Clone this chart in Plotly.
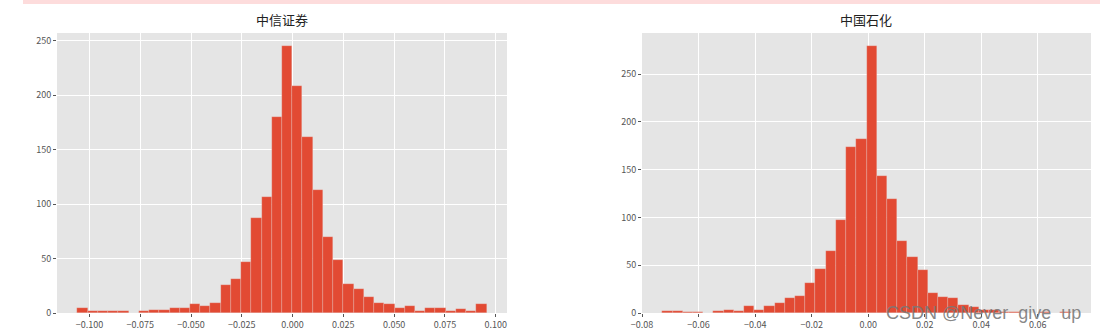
import numpy as np
import plotly.graph_objects as go

# ---------------- data ----------------
titles = ["中信证券", "中国石化"]

# 40-bin histogram counts of daily returns
citic_counts = [5, 2, 2, 2, 2, 0, 2, 3, 3, 5, 5, 8, 6, 9, 26, 31, 47, 87, 107, 180,
                245, 209, 162, 113, 70, 49, 27, 22, 15, 9, 8, 5, 6, 2, 5, 5, 2, 4, 2, 8]
sinopec_counts = [2, 2, 1, 1, 0, 2, 3, 2, 7, 3, 7, 10, 16, 18, 31, 46, 65, 97, 174, 182,
                  279, 143, 119, 75, 59, 45, 21, 17, 16, 8, 6, 3, 3, 1, 1, 0, 0, 1, 0, 1]

# data min / max (histogram range)
citic_range = [-0.1059, 0.0955]
sinopec_range = [-0.0728, 0.0716]

citic_xticks = [-0.100, -0.075, -0.050, -0.025, 0.000, 0.025, 0.050, 0.075, 0.100]
sinopec_xticks = [-0.08, -0.06, -0.04, -0.02, 0.00, 0.02, 0.04, 0.06]
yticks = [0, 50, 100, 150, 200, 250]

# ---------------- figure ----------------
W, H = 1100, 332
BAR = "#E24A33"
BG = "#E5E5E5"
TICK = "#555555"

fig = go.Figure()


def add_hist(counts, rng, xa, ya):
    n = len(counts)
    edges = np.linspace(rng[0], rng[1], n + 1)
    centers = (edges[:-1] + edges[1:]) / 2
    width = edges[1] - edges[0]
    fig.add_trace(go.Bar(
        x=centers, y=counts, width=width,
        marker=dict(color=BAR, line=dict(color="rgba(238,238,238,0.45)", width=0.5)),
        xaxis=xa, yaxis=ya, showlegend=False, hoverinfo="x+y",
    ))


add_hist(citic_counts, citic_range, "x", "y")
add_hist(sinopec_counts, sinopec_range, "x2", "y2")


def xr(rng):
    span = rng[1] - rng[0]
    return [rng[0] - 0.05 * span, rng[1] + 0.05 * span]


ydom = [(H - 313) / H, (H - 33) / H]
axis_common = dict(
    showgrid=True, gridcolor="white", gridwidth=1, zeroline=False,
    showline=False, ticks="outside", ticklen=3, tickcolor=TICK, automargin=False,
    tickfont=dict(family="Noto Sans CJK SC, DejaVu Sans", size=9, color=TICK),
)

fig.update_layout(
    width=W, height=H,
    margin=dict(l=0, r=0, t=0, b=0),
    paper_bgcolor="white",
    plot_bgcolor=BG,
    bargap=0,
    xaxis=dict(domain=[57 / W, 507 / W], range=xr(citic_range),
               tickvals=citic_xticks, tickformat=".3f", anchor="y", **axis_common),
    yaxis=dict(domain=ydom, range=[0, max(citic_counts) * 1.05],
               tickvals=yticks, anchor="x", **axis_common),
    xaxis2=dict(domain=[642 / W, 1091 / W], range=xr(sinopec_range),
                tickvals=sinopec_xticks, tickformat=".2f", anchor="y2", **axis_common),
    yaxis2=dict(domain=ydom, range=[0, max(sinopec_counts) * 1.05],
                tickvals=yticks, anchor="x2", **axis_common),
)

# subplot titles
for t, cx in zip(titles, [282, 866]):
    fig.add_annotation(
        text=t, x=cx / W, y=(H - 20) / H, xref="paper", yref="paper",
        xanchor="center", yanchor="middle", showarrow=False,
        font=dict(family="Noto Sans CJK SC", size=13, color="#222222"),
    )

# pink strip at the top of the screenshot
fig.add_shape(type="rect", xref="paper", yref="paper",
              x0=23 / W, x1=1, y0=(H - 4) / H, y1=1,
              fillcolor="#FDDCDC", line=dict(width=0), layer="above")

# watermark
fig.add_annotation(
    text="CSDN @Never  give  up", x=983 / W, y=(H - 313) / H, xref="paper", yref="paper",
    xanchor="center", yanchor="middle", showarrow=False,
    font=dict(family="Liberation Sans, Arial", size=18, color="rgba(120,120,120,0.9)"),
)

fig.write_html("out.html")
